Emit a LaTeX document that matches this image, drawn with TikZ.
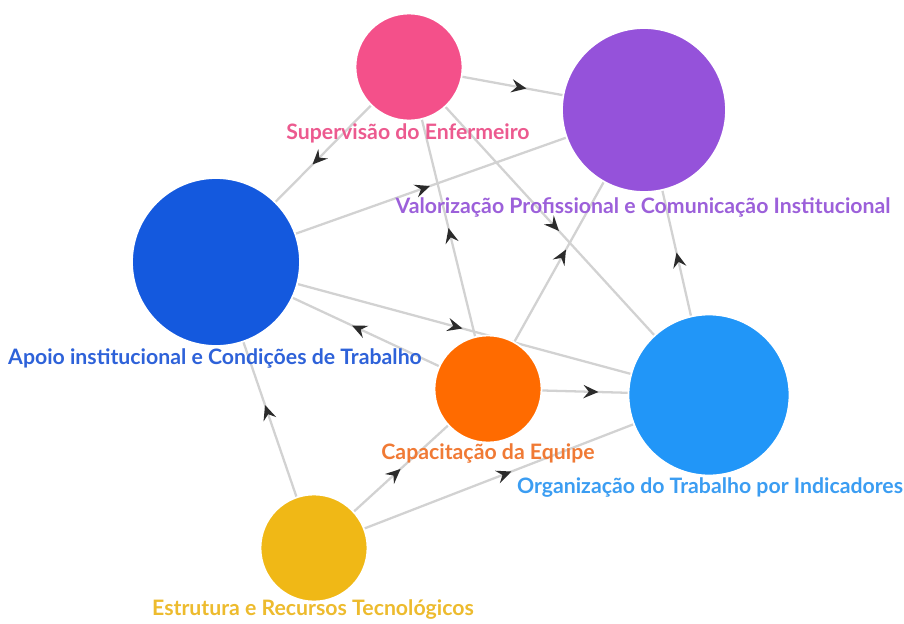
\documentclass[tikz,border=0pt]{standalone}
\usepackage{fontspec}
\setmainfont{Lato}
\usetikzlibrary{arrows.meta,decorations.markings,backgrounds}
\definecolor{supfill}{HTML}{F4508A}
\definecolor{valfill}{HTML}{9552DA}
\definecolor{apofill}{HTML}{1459DE}
\definecolor{capfill}{HTML}{FF6B00}
\definecolor{orgfill}{HTML}{2196F8}
\definecolor{estfill}{HTML}{F0B816}
\definecolor{suptext}{HTML}{EC5A8F}
\definecolor{valtext}{HTML}{9C60DA}
\definecolor{apotext}{HTML}{2E62D9}
\definecolor{captext}{HTML}{F07A35}
\definecolor{orgtext}{HTML}{3B9DF2}
\definecolor{esttext}{HTML}{EDBB2E}
\definecolor{linkgray}{HTML}{D2D2D2}
\definecolor{tipgray}{HTML}{2B2B2B}
\tikzset{
	bubble/.style={circle, draw=white, line width=1pt, inner sep=0pt},
	tag/.style={font=\fontsize{12.1}{14}\selectfont\bfseries},
	link/.style={draw=linkgray, line width=1.3pt, postaction={decorate},
		decoration={markings, mark=at position 0.5 with {\arrow[tipgray]{Stealth[length=8.5pt,width=7.5pt,inset=3pt]}}}}
}

\begin{document}
\begin{tikzpicture}[x=0.02cm, y=-0.02cm]
		%%%%% START %%%%%
		\useasboundingbox (0,0) rectangle (904,623);
		
		\node[bubble, fill=supfill, minimum size=2.14cm] (sup) at (409,67) {};
		\node[bubble, fill=valfill, minimum size=3.28cm] (val) at (644,110) {};
		\node[bubble, fill=apofill, minimum size=3.36cm] (apo) at (216,262) {};
		\node[bubble, fill=capfill, minimum size=2.14cm] (cap) at (488,389) {};
		\node[bubble, fill=orgfill, minimum size=3.22cm] (org) at (709,395) {};
		\node[bubble, fill=estfill, minimum size=2.14cm] (est) at (314,548) {};
		
		\node[tag, text=suptext] (suplab) at (408,133) {Supervisão do Enfermeiro};
		\node[tag, text=valtext] (vallab) at (643,207) {Valorização Profissional e Comunicação Institucional};
		\node[tag, text=apotext] (apolab) at (215,358) {Apoio institucional e Condições de Trabalho};
		\node[tag, text=captext] (caplab) at (488,453) {Capacitação da Equipe};
		\node[tag, text=orgtext] (orglab) at (710,488) {Organização do Trabalho por Indicadores};
		\node[tag, text=esttext] (estlab) at (313,610) {Estrutura e Recursos Tecnológicos};
		
		\begin{pgfonlayer}{background}
			\draw[link] (sup.center) -- (val.center);
			\draw[link] (sup.center) -- (apo.center);
			\draw[link] (sup.center) -- (org.center);
			\draw[link] (cap.center) -- (sup.center);
			\draw[link] (apo.center) -- (val.center);
			\draw[link] (apo.center) -- (org.center);
			\draw[link] (cap.center) -- (apo.center);
			\draw[link] (cap.center) -- (val.center);
			\draw[link] (cap.center) -- (org.center);
			\draw[link] (org.center) -- (val.center);
			\draw[link] (est.center) -- (apo.center);
			\draw[link] (est.center) -- (cap.center);
			\draw[link] (est.center) -- (org.center);
		\end{pgfonlayer}
		%%%%% END %%%%%
\end{tikzpicture}
\end{document}
